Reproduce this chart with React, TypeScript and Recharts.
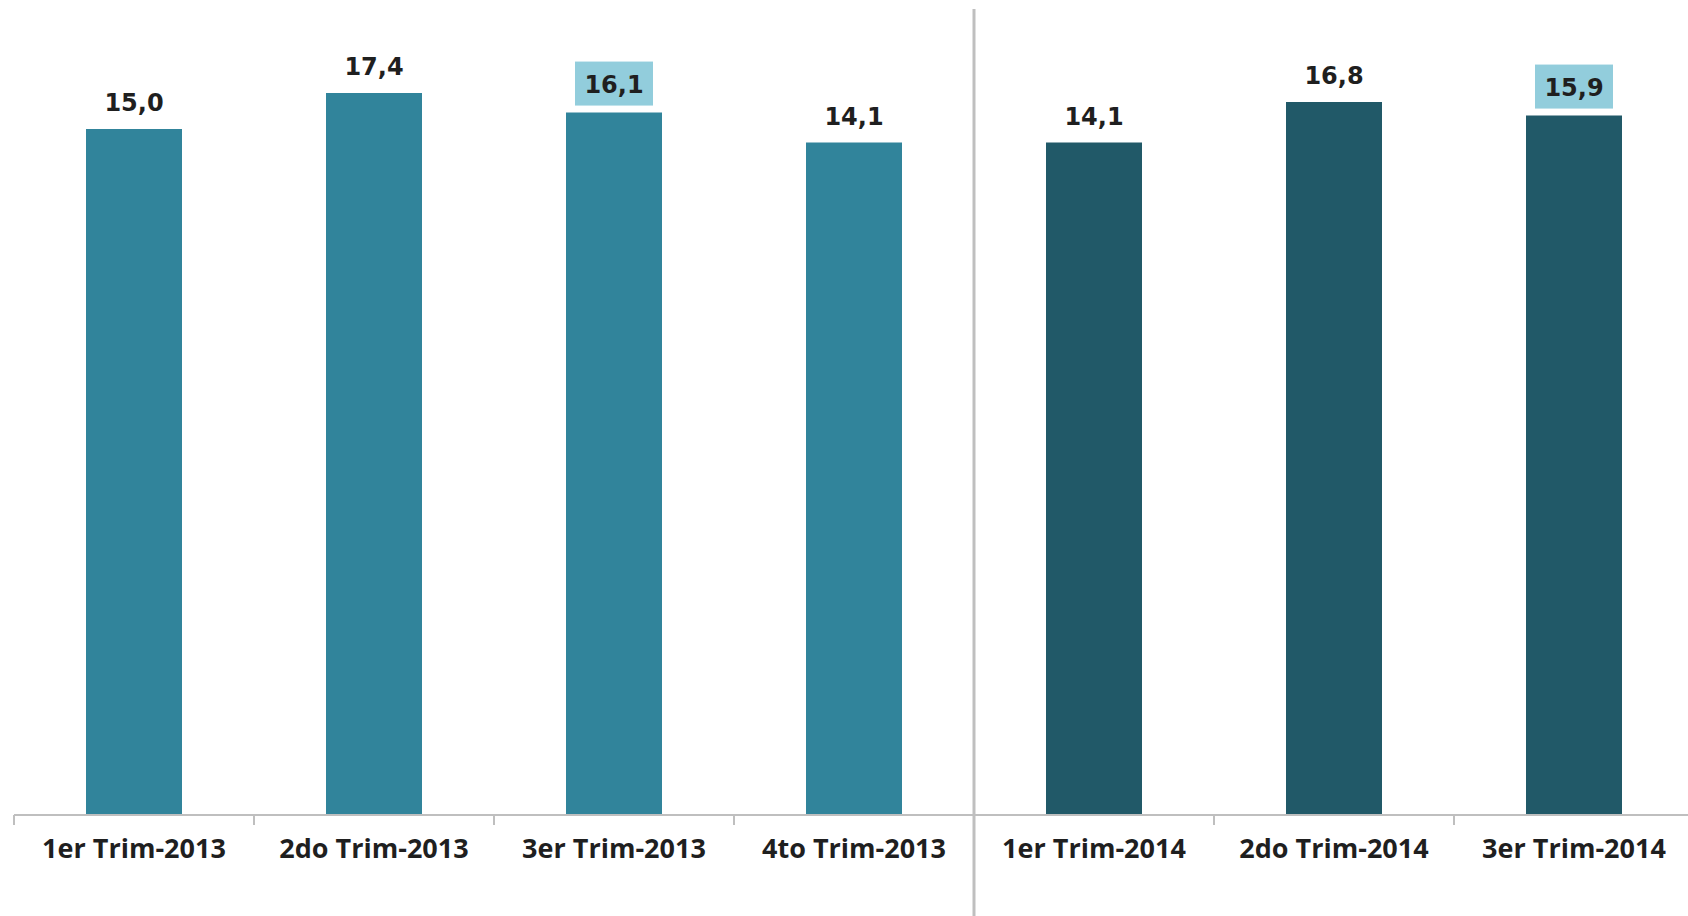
import { BarChart, Bar, XAxis, YAxis, Cell, LabelList } from "recharts";

const categories = [
  "1er Trim-2013",
  "2do Trim-2013",
  "3er Trim-2013",
  "4to Trim-2013",
  "1er Trim-2014",
  "2do Trim-2014",
  "3er Trim-2014",
];
const values = [15.0, 17.4, 16.1, 14.1, 14.1, 16.8, 15.9];
const highlighted = [false, false, true, false, false, false, true];

const data = categories.map((name, i) => ({ name, value: values[i], hl: highlighted[i] }));

const W = 1694;
const H = 916;
const LEFT = 14;
const BAND = (W - LEFT) / categories.length;
// the original value axis does not start at zero
const AXIS_MIN = -30.7;
const AXIS_MAX = 23;
const AXIS_GREY = "#bfbfbf";
const COLOR_2013 = "#31849b";
const COLOR_2014 = "#215968";
const HL_BOX = "#92cddc";

const fmt = (v: number) => v.toFixed(1).replace(".", ",");

function Tick(props: any) {
  const { x, y, payload, index } = props;
  const left = x - BAND / 2;
  const isSplit = categories[index].endsWith("2014") && !categories[index - 1]?.endsWith("2014");
  return (
    <g>
      {isSplit ? (
        <line x1={left} x2={left} y1={y - 806} y2={y + 101} stroke={AXIS_GREY} strokeWidth={3} />
      ) : (
        <line x1={left} x2={left} y1={y} y2={y + 10} stroke={AXIS_GREY} strokeWidth={2} />
      )}
      <text
        x={x}
        y={y + 43}
        textAnchor="middle"
        fontFamily="'Open Sans', sans-serif"
        fontWeight={700}
        fontSize={27}
        fill="#1f1f1f"
      >
        {payload.value}
      </text>
    </g>
  );
}

function ValueLabel(props: any) {
  const { x, y, width, index } = props;
  const cx = x + width / 2;
  const hl = highlighted[index];
  return (
    <g>
      {hl && <rect x={cx - 39} y={y - 51} width={78} height={44} fill={HL_BOX} />}
      <text
        x={cx}
        y={hl ? y - 20 : y - 18}
        textAnchor="middle"
        fontFamily="'DejaVu Sans', Verdana, sans-serif"
        fontWeight={700}
        fontSize={24}
        fill="#1f1f1f"
      >
        {fmt(values[index])}
      </text>
    </g>
  );
}

export default function App() {
  return (
    <div
      style={{
        position: "absolute",
        left: 0,
        top: 0,
        width: 1688,
        height: H,
        overflow: "hidden",
        background: "#fff",
      }}
    >
      <BarChart width={W} height={H} data={data} margin={{ top: 9, right: 0, bottom: 0, left: LEFT }}>
        <XAxis
          dataKey="name"
          height={101}
          axisLine={{ stroke: AXIS_GREY, strokeWidth: 2 }}
          tickLine={false}
          tickSize={0}
          tickMargin={0}
          interval={0}
          tick={<Tick />}
        />
        <YAxis hide domain={[AXIS_MIN, AXIS_MAX]} allowDataOverflow />
        <Bar
          dataKey={(d: any) => [AXIS_MIN, d.value]}
          barSize={96}
          isAnimationActive={false}
        >
          {data.map((d, i) => (
            <Cell key={i} fill={d.name.endsWith("2014") ? COLOR_2014 : COLOR_2013} />
          ))}
          <LabelList content={<ValueLabel />} />
        </Bar>
      </BarChart>
    </div>
  );
}
